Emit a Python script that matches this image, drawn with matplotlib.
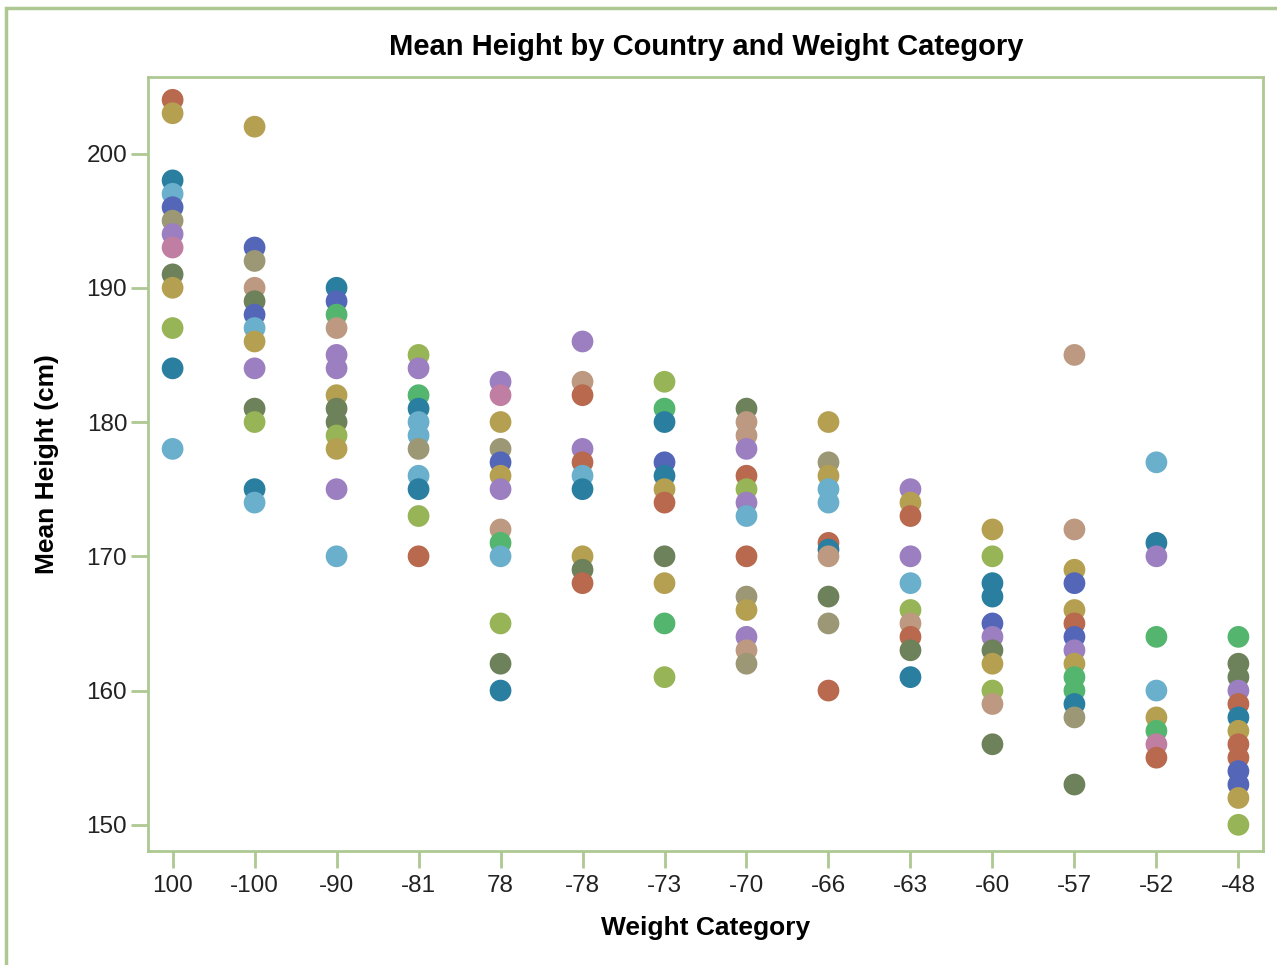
import matplotlib.pyplot as plt
import matplotlib.patches as mpatches

# weight categories (x axis, categorical)
categories = ['100', '-100', '-90', '-81', '78', '-78', '-73', '-70',
              '-66', '-63', '-60', '-57', '-52', '-48']

# mean heights per category and the group (country) of each point
heights = [
    [204, 203, 198, 197, 196, 195, 194, 193, 191, 190, 187, 184, 178],
    [202, 193, 192, 190, 189, 188, 187, 186, 184, 181, 180, 175, 174],
    [190, 189, 188, 187, 185, 184, 182, 181, 180, 179, 178, 175, 170],
    [185, 184, 182, 181, 180, 179, 178, 176, 175, 173, 170],
    [183, 182, 180, 178, 177, 176, 175, 172, 171, 170, 165, 162, 160],
    [186, 183, 182, 178, 177, 176, 175, 170, 169, 168],
    [183, 181, 180, 177, 176, 175, 174, 170, 168, 165, 161],
    [181, 180, 179, 178, 176, 175, 174, 173, 170, 167, 166, 164, 163, 162],
    [180, 177, 176, 175, 174, 171, 170.5, 170, 167, 165, 160],
    [175, 174, 173, 170, 168, 166, 165, 164, 163, 161],
    [172, 170, 168, 167, 165, 164, 163, 162, 160, 159, 156],
    [185, 172, 169, 168, 166, 165, 164, 163, 162, 161, 160, 159, 158, 153],
    [177, 171, 170, 164, 160, 158, 157, 156, 155],
    [164, 162, 161, 160, 159, 158, 157, 156, 155, 154, 153, 152, 150],
]
groups = [
    'RGTLBOPKDGYTL',
    'GBOADBLGPDYTL',
    'TBNAPPGDDYGPL',
    'YPNTLLOLTYR',
    'PKGOBGPANLYDT',
    'PARPRLTGDR',
    'YNTBTGRDGNY',
    'DAAPRYPLROGPAO',
    'GOGLLRTADOR',
    'PGRPLYARDT',
    'GYTTBPDGYAD',
    'AAGBGRBPGNNTOD',
    'LTPNLGNKR',
    'NDDPRTGRRBBGY',
]

palette = {
    'R': '#B8694E', 'G': '#B5A052', 'T': '#2A7EA0', 'L': '#6AAFCB',
    'B': '#5466B8', 'O': '#9C9774', 'P': '#9B7FC0', 'K': '#C07EA2',
    'D': '#6D815A', 'Y': '#97B457', 'N': '#54B56E', 'A': '#BC9980',
}

frame_col = '#AEC893'
plt.rcParams['font.family'] = ['Liberation Sans', 'DejaVu Sans']

fig = plt.figure(figsize=(12.77, 9.65), dpi=100)
ax = fig.add_axes([148 / 1277, 1 - 851 / 965, (1263 - 148) / 1277, (851 - 77) / 965])

for i, (vals, grp) in enumerate(zip(heights, groups)):
    for v, g in zip(vals, grp):
        ax.scatter(i, v, s=245, color=palette[g], edgecolors='none', zorder=3)

ax.set_xlim(-0.3, len(categories) - 0.7)
ax.set_ylim(148.05, 205.7)
ax.set_xticks(range(len(categories)))
ax.set_xticklabels(categories)
ax.set_yticks([150, 160, 170, 180, 190, 200])

for sp in ax.spines.values():
    sp.set_color(frame_col)
    sp.set_linewidth(2)
ax.tick_params(axis='both', colors=frame_col, length=12, width=2,
               labelsize=17.5, labelcolor='#222222')
ax.tick_params(axis='x', pad=5)
ax.tick_params(axis='y', pad=3)

ax.set_xlabel('Weight Category', fontsize=19, fontweight='bold', labelpad=14)
ax.set_ylabel('Mean Height (cm)', fontsize=19, fontweight='bold', labelpad=20)
fig.text(706 / 1277, 1 - 47 / 965, 'Mean Height by Country and Weight Category',
         ha='center', va='center', fontsize=21, fontweight='bold')

# outer frame (right and bottom edges fall outside the image)
fig.patches.append(mpatches.Rectangle((6 / 1277, -0.1), 1.2, 1 - 8 / 965 + 0.1,
                                      transform=fig.transFigure, fill=False,
                                      edgecolor=frame_col, linewidth=2.5))

fig.savefig('out.png', dpi=100)
